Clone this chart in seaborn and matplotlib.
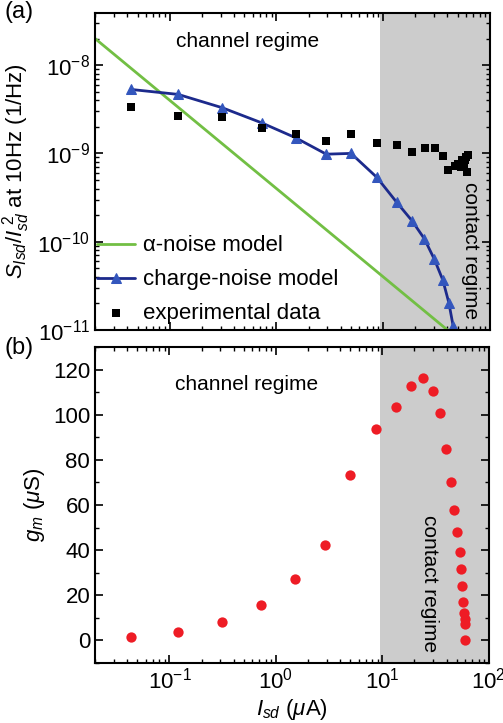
import numpy as np
import pandas as pd
import seaborn as sns
import matplotlib.pyplot as plt

sns.set_style("ticks")
plt.rcParams['font.family'] = ['Liberation Sans', 'DejaVu Sans']
plt.rcParams['mathtext.fontset'] = 'custom'
plt.rcParams['mathtext.rm'] = 'Liberation Sans'
plt.rcParams['mathtext.it'] = 'Liberation Sans:italic'
for key in ['text.color', 'axes.labelcolor', 'xtick.color', 'ytick.color', 'axes.edgecolor']:
    plt.rcParams[key] = 'black'

# (a) noise data
alpha_x = [0.02, 100]
alpha_y = [2.0e-8, 4.0e-12]

charge_x = [0.0436, 0.12, 0.311, 0.727, 1.52, 2.93, 5.0, 8.73, 13.4, 18.6, 24.3, 30.2, 36.2, 41.2, 45.3]
charge_y = [5.3e-9, 4.66e-9, 3.29e-9, 2.22e-9, 1.50e-9, 0.98e-9, 1.0e-9, 5.35e-10, 2.79e-10,
            1.73e-10, 1.08e-10, 6.3e-11, 3.68e-11, 2.04e-11, 1.1e-11]

exp_x = [0.0436, 0.12, 0.311, 0.727, 1.52, 2.93, 5.0, 8.73, 13.4, 18.7, 24.4, 30.3, 36.0,
         40.9, 46.6, 50.0, 53.1, 55.0, 56.9, 59.0, 60.2, 61.1, 61.9]
exp_y = [3.37e-9, 2.67e-9, 2.6e-9, 1.92e-9, 1.68e-9, 1.38e-9, 1.65e-9, 1.32e-9, 1.26e-9,
         1.04e-9, 1.15e-9, 1.15e-9, 0.94e-9,
         6.5e-10, 7.2e-10, 7.6e-10, 7.0e-10, 8.4e-10, 7.5e-10, 8.5e-10, 9.2e-10, 6.2e-10, 9.5e-10]

# (b) transconductance
gm_x = [0.0436, 0.12, 0.31, 0.72, 1.5, 2.9, 5.0, 8.7, 13.4, 18.6, 23.9, 29.7, 34.9, 39.7,
        44.3, 47.5, 50.4, 53.0, 55.0, 56.2, 57.4, 58.2, 59.0, 59.4, 59.9]
gm_y = [1.6, 3.8, 8.2, 15.9, 27.2, 42.1, 73.3, 93.7, 103.4, 112.8, 116.5, 110.4, 100.6, 84.7,
        70.2, 57.9, 48.1, 39.0, 31.5, 24.3, 17.2, 12.2, 9.6, 7.1, 0.1]

contact_start = 9.4

fig = plt.figure(figsize=(5.03, 7.23), dpi=100)
ax1 = fig.add_axes([0.189, 0.5436, 0.785, 0.4385])
ax2 = fig.add_axes([0.189, 0.083, 0.783, 0.437])

for ax in (ax1, ax2):
    ax.axvspan(contact_start, 200, color='#cccccc', lw=0, zorder=0)

sns.lineplot(x=alpha_x, y=alpha_y, ax=ax1, color='#72bf44', lw=2, label='α-noise model')
sns.lineplot(x=charge_x, y=charge_y, ax=ax1, color='#1c2a8c', lw=2, marker='^',
             markersize=7.5, markerfacecolor='#3356bd', markeredgecolor='#3356bd',
             label='charge-noise model')
sns.scatterplot(x=exp_x, y=exp_y, ax=ax1, color='black', marker='s', s=34, lw=0,
                label='experimental data', zorder=3)

ax1.set_xscale('log')
ax1.set_yscale('log')
ax1.set_xlim(0.02, 100)
ax1.set_ylim(1e-11, 3.9e-8)
ax1.set_xticklabels([])
ax1.set_ylabel(r'$S_{Isd}/I_{sd}^{\ 2}$ at 10Hz (1/Hz)', fontsize=16)
ax1.legend(loc='lower left', bbox_to_anchor=(-0.045, -0.045), frameon=False, fontsize=16,
           handlelength=1.7, handletextpad=0.35, labelspacing=0.58)
ax1.text(0.385, 0.91, 'channel regime', transform=ax1.transAxes, ha='center', va='center',
         fontsize=15)
ax1.text(0.95, 0.25, 'contact regime', transform=ax1.transAxes, ha='center', va='center',
         rotation=-90, fontsize=15)

sns.scatterplot(x=gm_x, y=gm_y, ax=ax2, color='#ee1c25', s=55, lw=0, zorder=3)
ax2.set_xscale('log')
ax2.set_xlim(0.02, 100)
ax2.set_ylim(-10, 130)
ax2.set_yticks([0, 20, 40, 60, 80, 100, 120])
ax2.set_yticks(np.arange(-10, 131, 10), minor=True)
ax2.set_ylabel(r'$g_m$ ($\mu$S)', fontsize=16)
ax2.set_xlabel(r'$I_{sd}$ ($\mu$A)', fontsize=16, labelpad=2)
ax2.text(0.385, 0.88, 'channel regime', transform=ax2.transAxes, ha='center', va='center',
         fontsize=15)
ax2.text(0.85, 0.25, 'contact regime', transform=ax2.transAxes, ha='center', va='center',
         rotation=-90, fontsize=15)

for ax in (ax1, ax2):
    ax.tick_params(which='both', direction='in', top=True, right=True, labelsize=16)
    ax.tick_params(which='major', length=6, width=1.2)
    ax.tick_params(which='minor', length=3, width=1)
    for sp in ax.spines.values():
        sp.set_linewidth(1.5)
        sp.set_visible(True)

fig.text(0.008, 0.983, '(a)', fontsize=17, va='center')
fig.text(0.008, 0.519, '(b)', fontsize=17, va='center')

fig.savefig('out.png', dpi=100)
